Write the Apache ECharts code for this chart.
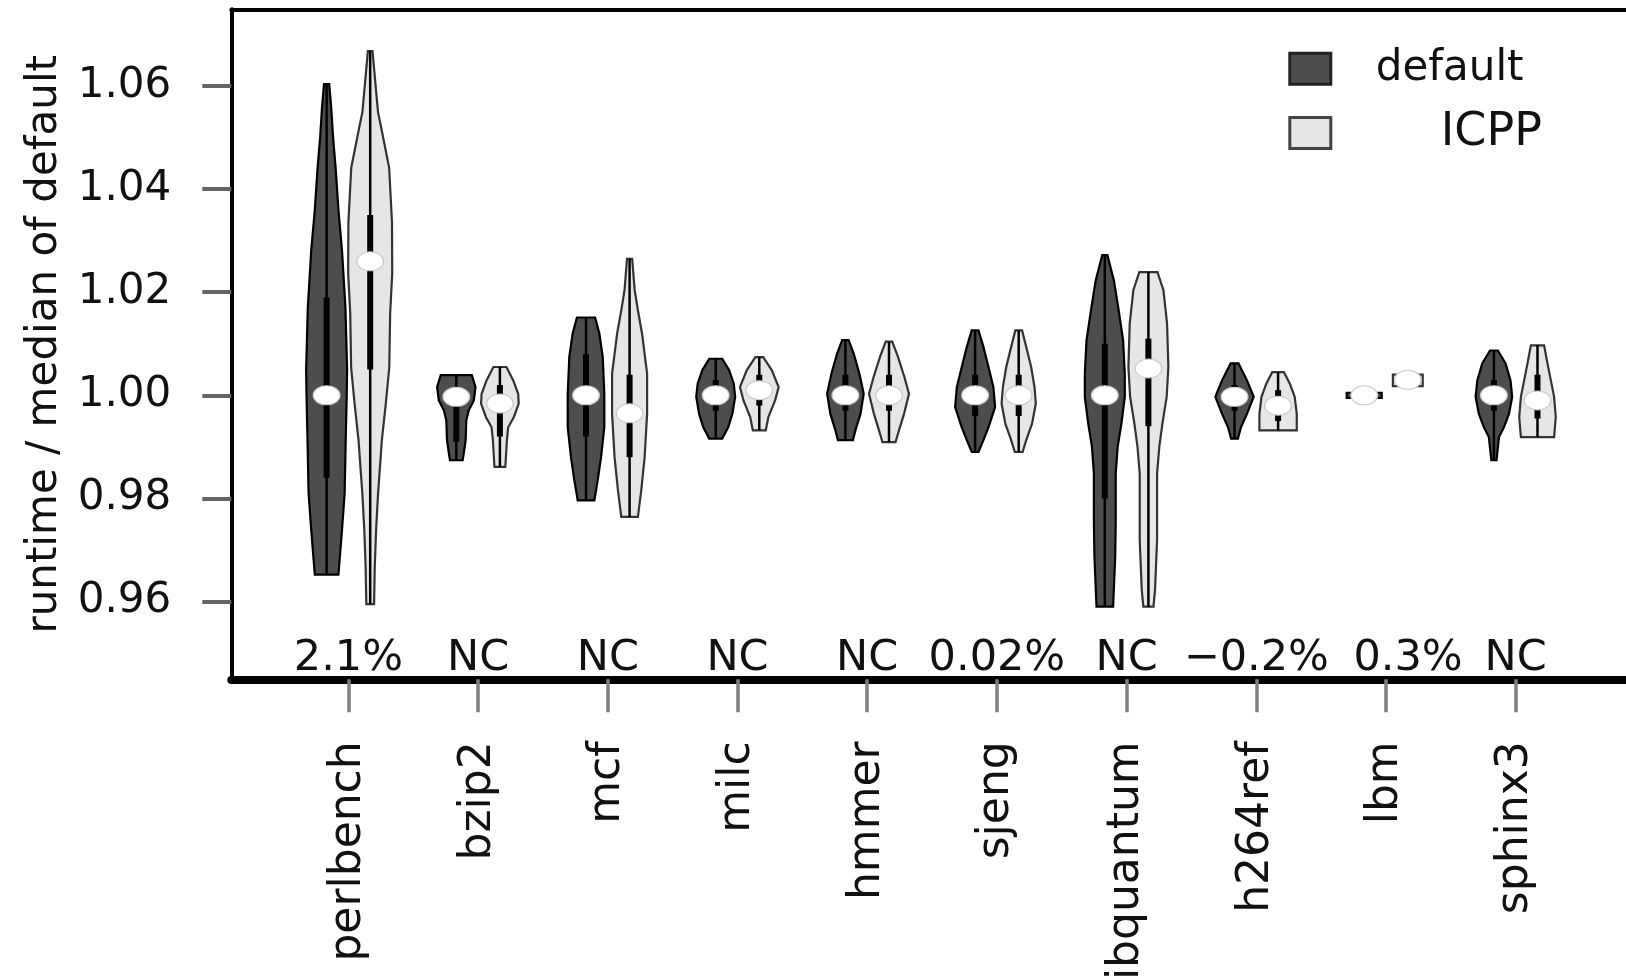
<!DOCTYPE html>
<html>
<head>
    <meta charset="utf-8">
    <title>runtime / median of default</title>
    <style>
        html, body {margin:0;padding:0;background:#fff;}
        #chart {width:1626px;height:977px;}
    </style>
    <script src="https://cdn.jsdelivr.net/npm/echarts@6/dist/echarts.min.js"></script>
</head>
<body>
<div id="chart"></div>
<script>
    var categories = ['perlbench','bzip2','mcf','milc','hmmer','sjeng','libquantum','h264ref','lbm','sphinx3'];
    var notes = ['2.1%','NC','NC','NC','NC','0.02%','NC','\u22120.2%','0.3%','NC'];
    var yTicks = [0.96, 0.98, 1.00, 1.02, 1.04, 1.06];

    // violin outlines: [runtime, half width of the density], top to bottom
    var defaultShapes = [
        [[1.0604,0.02],[1.056,0.035],[1.050,0.05],[1.044,0.07],[1.036,0.091],[1.028,0.119],[1.017,0.145],[1.005,0.158],[1.000,0.155],[0.991,0.147],[0.981,0.139],[0.974,0.119],[0.9652,0.091]],
        [[1.0039,0.12],[1.0016,0.148],[0.999,0.135],[0.9971,0.096],[0.9951,0.077],[0.9913,0.072],[0.9887,0.057],[0.9874,0.049]],
        [[1.0151,0.07],[1.012,0.103],[1.0074,0.129],[1.0003,0.141],[0.9938,0.141],[0.988,0.116],[0.9835,0.09],[0.9796,0.064]],
        [[1.0071,0.05],[1.0049,0.103],[1.0023,0.139],[0.9997,0.15],[0.9964,0.128],[0.9938,0.096],[0.9916,0.05]],
        [[1.0107,0.025],[1.0081,0.064],[1.0042,0.108],[1.0003,0.141],[0.9964,0.116],[0.9932,0.077],[0.9913,0.058]],
        [[1.0126,0.026],[1.0094,0.064],[1.0055,0.103],[1.0016,0.141],[0.9977,0.154],[0.9938,0.103],[0.9913,0.064],[0.989,0.026]],
        [[1.0272,0.02],[1.0223,0.07],[1.0171,0.103],[1.0107,0.141],[1.0042,0.154],[0.9997,0.154],[0.9945,0.128],[0.99,0.099],[0.9848,0.084],[0.9751,0.084],[0.9686,0.08],[0.959,0.064]],
        [[1.0062,0.03],[1.0029,0.096],[0.9997,0.148],[0.9964,0.096],[0.9938,0.05],[0.9916,0.026]],
        [[1.0005,0.135],[0.9995,0.135]],
        [[1.0087,0.03],[1.0062,0.09],[1.0029,0.128],[0.9997,0.141],[0.9964,0.116],[0.9938,0.077],[0.9919,0.039],[0.9874,0.02]]
    ];
    var icppShapes = [
        [[1.0668,0.018],[1.062,0.035],[1.055,0.06],[1.0513,0.09],[1.0442,0.146],[1.0336,0.168],[1.0237,0.17],[1.016,0.154],[1.0054,0.147],[0.9983,0.12],[0.9913,0.09],[0.9807,0.06],[0.9736,0.045],[0.9665,0.035],[0.9595,0.03]],
        [[1.0055,0.05],[1.0029,0.103],[1.0003,0.141],[0.9984,0.145],[0.9958,0.108],[0.9938,0.064],[0.9913,0.054],[0.9861,0.042]],
        [[1.0265,0.02],[1.0204,0.039],[1.0165,0.064],[1.012,0.096],[1.0042,0.135],[0.9964,0.135],[0.988,0.116],[0.9816,0.09],[0.9764,0.064]],
        [[1.0074,0.03],[1.0049,0.096],[1.0016,0.149],[0.999,0.122],[0.9958,0.07],[0.9932,0.05]],
        [[1.0104,0.025],[1.0074,0.07],[1.0036,0.118],[1.0003,0.154],[0.9964,0.116],[0.9932,0.077],[0.9909,0.05]],
        [[1.0126,0.026],[1.0094,0.058],[1.0055,0.096],[1.0016,0.122],[0.9984,0.132],[0.9945,0.103],[0.9913,0.058],[0.989,0.03]],
        [[1.0239,0.07],[1.0204,0.116],[1.0139,0.144],[1.0055,0.154],[0.9997,0.141],[0.9945,0.108],[0.99,0.084],[0.9848,0.067],[0.9719,0.067],[0.9622,0.051],[0.959,0.039]],
        [[1.0045,0.045],[1.0023,0.09],[0.9997,0.128],[0.9964,0.144],[0.9932,0.144]],
        [[1.0040,0.115],[1.0018,0.115]],
        [[1.0097,0.051],[1.0062,0.077],[1.0029,0.103],[0.9997,0.128],[0.9958,0.141],[0.9919,0.128]]
    ];
    // inner box [q1, q3] and medians
    var defaultBoxes = [[0.984,1.019],[0.991,1.001],[0.992,1.008],[0.997,1.003],[0.997,1.004],[0.996,1.004],[0.98,1.01],[0.997,1.002],[1.0,1.0],[0.997,1.003]];
    var icppBoxes = [[1.005,1.035],[0.992,1.002],[0.988,1.004],[0.998,1.004],[0.997,1.004],[0.996,1.004],[0.994,1.011],[0.995,1.001],[1.003,1.003],[0.9955,1.004]];
    var defaultMedians = [1.0, 0.9997, 1.0, 1.0, 1.0, 1.0, 1.0, 0.9997, 1.0, 1.0];
    var icppMedians = [1.026, 0.9984, 0.9965, 1.001, 1.0, 1.0, 1.0052, 0.998, 1.003, 0.999];

    var X_MIN = 0.0971, X_MAX = 10.8504;
    var Y_MIN = 0.9449, Y_MAX = 1.0749;
    var pairOffset = 0.168;
    var noteShift = [0,0,0,0,0,0,0,0,0.17,0];
    var FONT = 'DejaVu Sans';
    var catTicks = categories.map(function (c, i) { return i + 1; });

    function violinSeries(name, shapes, boxes, medians, side, fill, stroke) {
        return {
            name: name,
            type: 'custom',
            xAxisIndex: 0,
            yAxisIndex: 0,
            itemStyle: {color: fill, borderColor: stroke},
            encode: {x: 0, y: 1},
            data: medians.map(function (m, i) { return [i + 1 + side * pairOffset, m, i]; }),
            renderItem: function (params, api) {
                var i = api.value(2), cx = api.value(0);
                var shape = shapes[i];
                var right = shape.map(function (p) { return api.coord([cx + p[1], p[0]]); });
                var left = shape.slice().reverse().map(function (p) { return api.coord([cx - p[1], p[0]]); });
                var top = api.coord([cx, shape[0][0]]);
                var bottom = api.coord([cx, shape[shape.length - 1][0]]);
                var q3 = api.coord([cx, boxes[i][1]]);
                var q1 = api.coord([cx, boxes[i][0]]);
                var med = api.coord([cx, api.value(1)]);
                return {
                    type: 'group',
                    children: [
                        {type: 'polygon', shape: {points: right.concat(left)}, style: {fill: fill, stroke: stroke, lineWidth: 2.2}},
                        {type: 'line', shape: {x1: top[0], y1: top[1], x2: bottom[0], y2: bottom[1]}, style: {stroke: '#000', lineWidth: 2.5}},
                        {type: 'rect', shape: {x: q3[0] - 3, y: q3[1], width: 6, height: q1[1] - q3[1]}, style: {fill: '#000'}},
                        {type: 'circle', x: med[0], y: med[1], scaleX: 1.4, shape: {cx: 0, cy: 0, r: 9.5}, style: {fill: '#fff', stroke: '#ccc', lineWidth: 1}}
                    ]
                };
            }
        };
    }

    var chart = echarts.init(document.getElementById('chart'));
    chart.setOption({
        animation: false,
        backgroundColor: '#fff',
        grid: {left: 231.3, top: 9.3, right: 0, bottom: 297.7, show: false, containLabel: false, outerBoundsMode: 'none'},
        legend: [
            {
                data: [{name: 'default', icon: 'rect', itemStyle: {color: '#4d4d4d', borderColor: '#222', borderWidth: 3}}],
                left: 1288.3, top: 43.8, padding: 0, itemWidth: 41, itemHeight: 31, selectedMode: false,
                textStyle: {fontFamily: FONT, fontSize: 42, color: '#111', lineHeight: 32, padding: [18, 0, 0, 40]}
            },
            {
                data: [{name: 'ICPP', icon: 'rect', itemStyle: {color: '#e6e6e6', borderColor: '#444', borderWidth: 3}}],
                left: 1288.3, top: 110, padding: 0, itemWidth: 41, itemHeight: 31, selectedMode: false,
                textStyle: {fontFamily: FONT, fontSize: 46, color: '#111', lineHeight: 31, padding: [0, 0, 0, 105]}
            }
        ],
        xAxis: [
            {
                // category ticks and names
                type: 'value', min: X_MIN, max: X_MAX, position: 'bottom',
                axisLine: {show: false},
                axisTick: {show: true, customValues: catTicks, length: 33, lineStyle: {color: '#808080', width: 3.5}},
                axisLabel: {
                    customValues: catTicks, rotate: 90, margin: 62,
                    fontFamily: FONT, fontSize: 44, color: '#111',
                    formatter: function (v) { return categories[Math.round(v) - 1]; }
                },
                splitLine: {show: false}
            },
            {
                // thick bottom frame line
                type: 'value', min: X_MIN, max: X_MAX, position: 'bottom',
                axisLine: {show: true, lineStyle: {color: '#000', width: 8}},
                axisTick: {show: false}, axisLabel: {show: false}, splitLine: {show: false}
            },
            {
                // top frame line
                type: 'value', min: X_MIN, max: X_MAX, position: 'top',
                axisLine: {show: true, lineStyle: {color: '#000', width: 4}},
                axisTick: {show: false}, axisLabel: {show: false}, splitLine: {show: false}
            }
        ],
        yAxis: {
            type: 'value', min: Y_MIN, max: Y_MAX,
            name: 'runtime / median of default', nameLocation: 'middle', nameRotate: 90, nameGap: 165,
            nameTextStyle: {fontFamily: FONT, fontSize: 42, color: '#111'},
            axisLine: {show: true, lineStyle: {color: '#000', width: 4}},
            axisTick: {show: true, customValues: yTicks, length: 29, lineStyle: {color: '#666', width: 4}},
            axisLabel: {
                customValues: yTicks, margin: 60,
                fontFamily: FONT, fontSize: 42, color: '#111',
                formatter: function (v) { return v.toFixed(2); }
            },
            splitLine: {show: false}
        },
        series: [
            violinSeries('default', defaultShapes, defaultBoxes, defaultMedians, -1, '#4d4d4d', '#000'),
            violinSeries('ICPP', icppShapes, icppBoxes, icppMedians, 1, '#e6e6e6', '#333'),
            {
                name: 'notes',
                type: 'custom',
                data: notes.map(function (t, i) { return [i + 1, Y_MIN, i]; }),
                encode: {x: 0, y: 1},
                renderItem: function (params, api) {
                    var i = api.value(2);
                    var p = api.coord([api.value(0) + noteShift[i], api.value(1)]);
                    return {
                        type: 'text', x: p[0], y: p[1] - 20,
                        style: {text: notes[i], fontFamily: FONT, fontSize: 43, fill: '#111', align: 'center', verticalAlign: 'middle'}
                    };
                }
            }
        ]
    });
</script>
</body>
</html>
